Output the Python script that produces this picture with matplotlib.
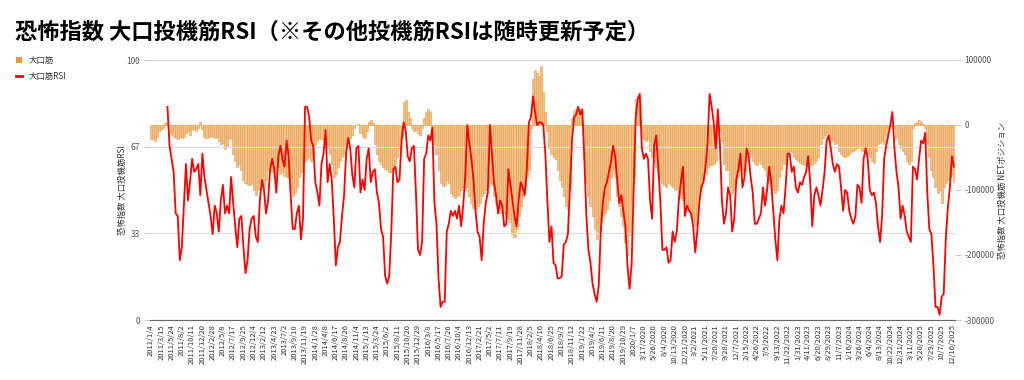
import numpy as np
import matplotlib.pyplot as plt
from matplotlib.patches import Patch
from matplotlib.lines import Line2D

plt.rcParams['font.family'] = ['Noto Sans CJK JP', 'DejaVu Sans']

# one sample every two weeks, starting 2011/1/4
rsi = [None] * 8 + [
    82, 67, 62, 57, 41, 40, 23, 28, 44, 60, 46, 53,
    62, 57, 58, 60, 48, 64, 55, 50, 45, 40,
    33, 44, 41, 34, 46, 52, 41, 44, 41, 55,
    45, 36, 28, 39, 40, 28, 18, 23, 35, 39,
    40, 32, 30, 46, 54, 50, 41, 46, 58, 62,
    58, 49, 63, 67, 62, 59, 69, 63, 48, 35,
    35, 41, 44, 31, 39, 82, 82, 78, 69, 67,
    53, 49, 44, 60, 64, 73, 53, 60, 54, 39,
    21, 28, 30, 40, 48, 64, 70, 66, 56, 51,
    66, 67, 49, 54, 50, 62, 66, 53, 57, 58,
    49, 45, 35, 32, 17, 14, 17, 34, 58, 59,
    53, 54, 69, 76, 73, 63, 61, 66, 67, 49,
    27, 25, 30, 62, 64, 71, 69, 74, 45, 37,
    16, 5, 7, 7, 34, 37, 42, 40, 42, 39,
    44, 36, 44, 55, 75, 68, 62, 54, 42, 34,
    32, 23, 37, 45, 49, 75, 64, 53, 48, 41,
    46, 44, 36, 37, 58, 52, 46, 40, 36, 46,
    53, 51, 48, 58, 76, 78, 86, 80, 75, 76,
    76, 75, 64, 46, 30, 36, 22, 21, 16, 16,
    17, 29, 30, 33, 51, 69, 78, 79, 82, 79,
    81, 62, 40, 27, 22, 14, 10, 7, 13, 34,
    45, 51, 53, 57, 61, 67, 63, 54, 45, 48,
    42, 36, 21, 12, 21, 49, 78, 85, 87, 66,
    62, 64, 62, 46, 39, 67, 71, 59, 46, 27,
    27, 28, 22, 23, 34, 30, 34, 46, 53, 59,
    40, 44, 42, 41, 36, 26, 34, 45, 51, 53,
    59, 68, 87, 82, 76, 66, 81, 68, 46, 37,
    41, 51, 48, 34, 39, 54, 58, 64, 51, 55,
    66, 63, 55, 49, 37, 37, 39, 41, 51, 44,
    50, 59, 53, 42, 31, 23, 39, 44, 41, 51,
    64, 64, 57, 59, 51, 49, 53, 52, 55, 57,
    63, 53, 36, 48, 51, 48, 44, 50, 57, 69,
    71, 66, 60, 57, 60, 59, 51, 42, 50, 49,
    42, 39, 37, 40, 52, 51, 45, 62, 66, 62,
    50, 48, 49, 45, 36, 30, 40, 62, 67, 71,
    75, 80, 66, 57, 51, 39, 44, 40, 34, 32,
    30, 59, 58, 54, 62, 69, 68, 72, 49, 35,
    33, 21, 5, 5, 2, 9, 10, 31, 43, 51,
    63, 59,
]

# large speculators net position, thousands of contracts
net_k = [
    -22, -22, -24, -18, -9, -8, -4, 3, 4, -12,
    -15, -18, -20, -21, -18, -20, -19, -12, -10, -15,
    -8, -6, -10, -5, 4, -6, -18, -20, -19, -17,
    -18, -20, -18, -25, -30, -27, -37, -33, -22, -20,
    -45, -55, -65, -60, -70, -85, -90, -92, -92, -90,
    -100, -108, -100, -90, -80, -95, -85, -70, -65, -72,
    -80, -70, -65, -75, -72, -78, -80, -82, -100, -110,
    -105, -95, -80, -72, -60, -55, -52, -50, -55, -45,
    -30, -25, -20, -22, -25, -30, -35, -45, -60, -80,
    -75, -65, -55, -50, -45, -30, -25, -20, -15, -5,
    0, 1, -12, -18, -20, -10, 5, 8, 3, -30,
    -45, -55, -60, -65, -68, -70, -72, -72, -70, -60,
    -50, -35, -20, 35, 38, 20, 10, -5, -10, -8,
    -12, -15, -5, 10, 20, 24, 20, -20, -30, -45,
    -70, -90, -94, -92, -85, -90, -105, -110, -112, -110,
    -108, -100, -95, -100, -95, -110, -120, -128, -130, -125,
    -120, -110, -105, -100, -95, -90, -92, -110, -120, -130,
    -135, -128, -135, -140, -145, -150, -168, -172, -160, -140,
    -125, -110, -95, -80, -70, -5, 70, 85, 80, 75,
    90, 50, 20, -10, -35, -45, -50, -52, -70, -85,
    -95, -110, -125, -130, -100, 10, 22, 25, 18, 25,
    5, -50, -90, -110, -125, -140, -160, -176, -165, -150,
    -140, -135, -130, -115, -80, -70, -80, -110, -125, -140,
    -155, -180, -200, -170, -120, -80, 40, 45, 30, -20,
    -22, -25, -22, -40, -50, -55, -65, -75, -85, -90,
    -92, -95, -90, -92, -95, -100, -98, -105, -112, -115,
    -120, -125, -130, -140, -150, -155, -140, -110, -95, -85,
    -75, -65, -62, -62, -60, -55, -15, -10, -25, -60,
    -70, -70, -95, -105, -100, -90, -80, -70, -75, -70,
    -55, -50, -45, -55, -60, -62, -55, -60, -65, -70,
    -80, -90, -95, -100, -105, -100, -80, -70, -60, -55,
    -45, -40, -42, -50, -52, -55, -58, -60, -62, -58,
    -55, -60, -62, -58, -55, -50, -30, -20, -15, -12,
    -25, -22, -25, -30, -28, -40, -45, -48, -50, -48,
    -45, -42, -40, -38, -36, -35, -40, -38, -35, -45,
    -50, -55, -58, -40, -30, -28, -25, -30, -15, -5,
    0, -2, -5, -20, -30, -35, -40, -45, -55, -60,
    -55, -5, 3, 5, 8, 4, 2, -5, -30, -50,
    -70, -80, -95, -105, -100, -120, -95, -90, -85, -80,
    -75, -88,
]

# every tenth week
tick_labels = [
    '2011/1/4', '2011/3/15', '2011/5/24', '2011/8/2', '2011/10/11', '2011/12/20',
    '2012/2/28', '2012/5/8', '2012/7/17', '2012/9/25', '2012/12/4', '2013/2/12',
    '2013/4/23', '2013/7/2', '2013/9/10', '2013/11/19', '2014/1/28', '2014/4/8',
    '2014/6/17', '2014/8/26', '2014/11/4', '2015/1/13', '2015/3/24', '2015/6/2',
    '2015/8/11', '2015/10/20', '2015/12/29', '2016/3/8', '2016/5/17', '2016/7/26',
    '2016/10/4', '2016/12/13', '2017/2/21', '2017/5/2', '2017/7/11', '2017/9/19',
    '2017/11/28', '2018/2/5', '2018/4/16', '2018/6/25', '2018/9/3', '2018/11/12',
    '2019/1/22', '2019/4/2', '2019/6/11', '2019/8/20', '2019/10/29', '2020/1/7',
    '3/17/2020', '5/26/2020', '8/4/2020', '10/13/2020', '12/21/2020', '3/2/2021',
    '5/11/2021', '7/20/2021', '9/28/2021', '12/7/2021', '2/15/2022', '4/26/2022',
    '7/5/2022', '9/13/2022', '11/22/2022', '1/31/2023', '4/11/2023', '6/20/2023',
    '8/29/2023', '11/7/2023', '1/16/2024', '3/26/2024', '6/4/2024', '8/13/2024',
    '10/22/2024', '12/31/2024', '3/11/2025', '5/20/2025', '7/29/2025', '10/7/2025',
    '12/16/2025',
]

x = np.arange(len(net_k))
rsi_arr = np.array([np.nan if v is None else v for v in rsi], dtype=float)
net = np.array(net_k) * 1000

fig = plt.figure(figsize=(10.24, 3.8), dpi=100)
ax = fig.add_axes([150/1024, 1 - 320/380, 805/1024, 260/380])
ax2 = ax.twinx()

ax2.bar(x, net, width=1.0, color='#F3C38E', edgecolor='#E99A45', linewidth=0.4)
ax.plot(x, rsi_arr, color='#FF0000', lw=1.3)

ax.set_zorder(ax2.get_zorder() + 1)
ax.patch.set_visible(False)

ax.set_xlim(-0.5, len(x) - 0.5)
ax.set_ylim(0, 100)
ax2.set_ylim(-300000, 100000)

ax.set_yticks([0, 100/3, 200/3, 100])
ax.set_yticklabels(['0', '33', '67', '100'])
ax2.set_yticks([-300000, -200000, -100000, 0, 100000])
ax2.set_yticklabels(['-300000', '-200000', '-100000', '0', '100000'])
ax.grid(axis='y', color='#dddddd', lw=0.9)

ax.set_xticks(x[::5])
ax.set_xticklabels(tick_labels, rotation=90, fontsize=5.5, color='#333333')

for a in (ax, ax2):
    for s in ('top', 'left', 'right', 'bottom'):
        a.spines[s].set_visible(False)
ax.spines['bottom'].set_visible(True)
ax.spines['bottom'].set_color('#666666')

ax.tick_params(axis='y', labelsize=6, colors='#555555', length=4, color='#cccccc', pad=3)
ax2.tick_params(axis='y', labelsize=6, colors='#555555', length=4, color='#cccccc', pad=3)
ax.tick_params(axis='x', length=0, pad=3)

ax.set_ylabel('恐怖指数 大口投機筋RSI', fontsize=6, color='#333333', labelpad=0)
ax2.set_ylabel('恐怖指数 大口投機筋 NETポジション', fontsize=6, color='#333333',
               rotation=90, labelpad=2)

fig.text(15/1024, 1 - 32/380, '恐怖指数 大口投機筋RSI（※その他投機筋RSIは随時更新予定）',
         fontsize=16, fontweight='bold', va='center', ha='left')

handles = [Patch(facecolor='#E89A3C', label='大口筋'),
           Line2D([0], [0], color='#FF0000', lw=2, label='大口筋RSI')]
fig.legend(handles=handles, loc='upper left', bbox_to_anchor=(0.008, 0.872),
           frameon=False, fontsize=6, handlelength=0.8, handleheight=0.8,
           labelspacing=0.8, handletextpad=0.8, labelcolor='#333333')

fig.savefig('out.png', dpi=100)
